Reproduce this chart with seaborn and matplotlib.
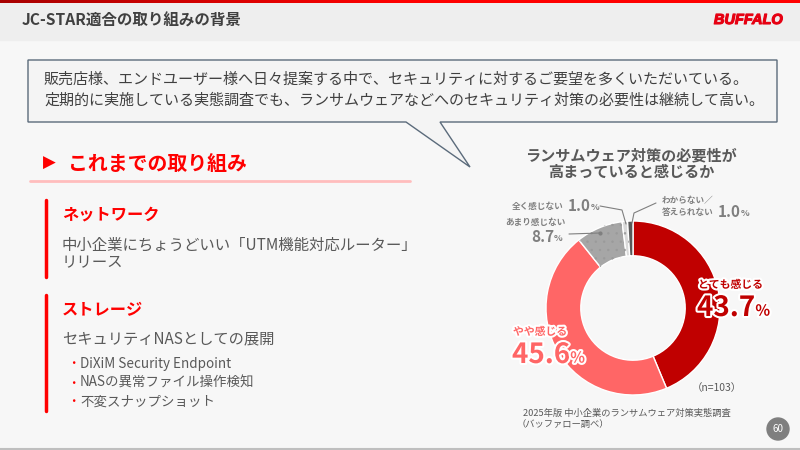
import numpy as np
import matplotlib
matplotlib.use("Agg")
import matplotlib.pyplot as plt
import seaborn as sns
from matplotlib import patheffects as pe
from matplotlib.patches import Rectangle, Polygon, Circle
from matplotlib.colors import LinearSegmentedColormap

# ---------------- data ----------------
categories = ["とても感じる", "やや感じる", "あまり感じない", "全く感じない", "わからない／答えられない"]
values = [43.7, 45.6, 8.7, 1.0, 1.0]
colors = ["#c00000", "#ff6666", "#a6a6a6", "#d9d9d9", "#595959"]
chart_title = ["ランサムウェア対策の必要性が", "高まっていると感じるか"]
sample_note = "（n=103）"
source_lines = ["2025年版 中小企業のランサムウェア対策実態調査", "（バッファロー調べ）"]
slide_title = "JC-STAR適合の取り組みの背景"
callout_lines = ["販売店様、エンドユーザー様へ日々提案する中で、セキュリティに対するご要望を多くいただいている。",
                 "定期的に実施している実態調査でも、ランサムウェアなどへのセキュリティ対策の必要性は継続して高い。"]
section_head = "これまでの取り組み"
net_head = "ネットワーク"
net_lines = ["中小企業にちょうどいい「UTM機能対応ルーター」", "リリース"]
sto_head = "ストレージ"
sto_line = "セキュリティNASとしての展開"
sto_bullets = ["DiXiM Security Endpoint", "NASの異常ファイル操作検知", "不変スナップショット"]
page_no = "60"

sns.set_theme(style="white")
plt.rcParams['font.family'] = ['Noto Sans CJK JP', 'DejaVu Sans']
plt.rcParams['hatch.linewidth'] = 0.5

RED = "#ff0000"
TXT = "#595959"

fig = plt.figure(figsize=(8, 4.5), dpi=100, facecolor="#f7f7f7")

# background / decoration axes in pixel coordinates
bg = fig.add_axes([0, 0, 1, 1])
bg.set_facecolor("#f7f7f7")
bg.add_patch(Rectangle((0, 0), 800, 40, color="#eeeeee", zorder=1))
cmap = LinearSegmentedColormap.from_list("r", ["#a80000", "#ff0000", "#ff0000"])
bg.imshow(np.linspace(0, 1, 256)[None, :], extent=[0, 800, 3.5, 0], cmap=cmap,
          aspect="auto", zorder=2)
bg.set_xlim(0, 800)
bg.set_ylim(450, 0)
bg.axis("off")

bg.text(22, 21, slide_title, fontsize=11.2, fontweight="bold", color="#404040", va="center")
bg.text(783, 20, "BUFFALO", fontsize=10.5, fontweight="heavy", style="italic", color="#e60012",
        ha="right", va="center", family=["Liberation Sans", "DejaVu Sans"],
        path_effects=[pe.withStroke(linewidth=0.8, foreground="#e60012")])

# callout box
bg.add_patch(Polygon([(28, 60), (777, 60), (777, 122), (440, 122), (470, 167), (406, 122), (28, 122)],
                     closed=True, facecolor="#f4f4f4", edgecolor="#5b6b7b", lw=1, zorder=3))
bg.text(44, 79, callout_lines[0], fontsize=10.85, color="#404040", va="center", zorder=4)
bg.text(44, 100, callout_lines[1], fontsize=10.85, color="#404040", va="center", zorder=4)

# left section
bg.text(43, 163, "▶", fontsize=12, color=RED, va="center", family=["DejaVu Sans"])
bg.text(68, 163, section_head, fontsize=14.3, fontweight="bold", color=RED, va="center")
bg.plot([30, 410], [181, 181], color="#ffbdbd", lw=2)

bg.plot([46, 46], [200, 277], color=RED, lw=2.5)
bg.text(62, 214, net_head, fontsize=11.7, fontweight="bold", color=RED, va="center")
bg.text(62, 245, net_lines[0], fontsize=11.1, color=TXT, va="center")
bg.text(62, 263, net_lines[1], fontsize=11.1, color=TXT, va="center")

bg.plot([46, 46], [295, 411], color=RED, lw=2.5)
bg.text(62, 310, sto_head, fontsize=11.7, fontweight="bold", color=RED, va="center")
bg.text(62, 339, sto_line, fontsize=11.0, color=TXT, va="center")
for yy, b in zip([364, 383, 402], sto_bullets):
    bg.text(73, yy, "・", fontsize=9, color=RED, ha="center", va="center")
    bg.text(80, yy, b, fontsize=9.7, color=TXT, va="center")

# page number & bottom line
bg.add_patch(Circle((778, 429), 11, color="#7f7f7f", zorder=3))
bg.text(778, 429, page_no, fontsize=7, color="white", ha="center", va="center", zorder=4)
bg.plot([0, 800], [449, 449], color="#bfbfbf", lw=1.5)

# chart title and notes
bg.text(631, 155, chart_title[0], fontsize=10.9, fontweight="bold", color=TXT, ha="center", va="center")
bg.text(631, 172, chart_title[1], fontsize=10.9, fontweight="bold", color=TXT, ha="center", va="center")
bg.text(742, 388, sample_note, fontsize=7.5, color=TXT, ha="right", va="center")
bg.text(523, 413, source_lines[0], fontsize=6.7, color=TXT, va="center")
bg.text(517, 425, source_lines[1], fontsize=6.7, color=TXT, va="center")

# ---------------- donut ----------------
cx, cy, R = 633, 308, 87
dax = fig.add_axes([(cx - R) / 800, (450 - cy - R) / 450, 2 * R / 800, 2 * R / 450])
wedges, _ = dax.pie(values, colors=colors, startangle=90, counterclock=False,
                    wedgeprops=dict(width=0.4, edgecolor="white", linewidth=1))
dax.set_xlim(-1, 1)
dax.set_ylim(-1, 1)
dax.axis("off")

# subtle dotted texture on the grey slices
for w in wedges[2:4]:
    tex = Polygon(w.get_path().vertices, closed=True, facecolor="none",
                  edgecolor="#9a9a9a", hatch="..", lw=0, transform=w.get_transform())
    dax.add_patch(tex)

# overlay for labels
ov = fig.add_axes([0, 0, 1, 1])
ov.set_xlim(0, 800)
ov.set_ylim(450, 0)
ov.axis("off")
ov.patch.set_alpha(0)

white = [pe.withStroke(linewidth=3, foreground="white")]
GL = "#7f7f7f"


def pct_text(x, y, v, big, small, color, effects=None, weight="bold"):
    t = ov.text(x, y, f"{v:.1f}", fontsize=big, fontweight=weight, color=color,
                va="center", ha="left", path_effects=effects)
    ov.annotate("%", xy=(1, 0.12), xycoords=t, xytext=(0, 0), textcoords="offset points",
                fontsize=small, fontweight=weight, color=color, va="bottom", ha="left",
                path_effects=effects)
    return t


# とても感じる
ov.text(698, 285, categories[0], fontsize=7.8, fontweight="bold", color=colors[0],
        va="center", path_effects=white)
pct_text(697, 308, values[0], 20, 11, colors[0], white)
# やや感じる
ov.text(513, 332, categories[1], fontsize=7.8, fontweight="bold", color=colors[1],
        va="center", path_effects=white)
pct_text(512, 355, values[1], 20, 11, colors[1], white)

# 全く感じない
t = ov.text(512, 206, categories[3], fontsize=6.2, fontweight="bold", color=GL, va="center")
t2 = ov.annotate(f"{values[3]:.1f}", xy=(1, 0.5), xycoords=t, xytext=(3, 0), textcoords="offset points",
                 fontsize=11, fontweight="bold", color=GL, va="center", ha="left")
ov.annotate("%", xy=(1, 0.12), xycoords=t2, xytext=(0, 0), textcoords="offset points",
            fontsize=6.5, fontweight="bold", color=GL, va="bottom", ha="left")
ov.plot([600, 622, 626], [206, 210, 224], color=GL, lw=0.8)

# あまり感じない
ov.text(505, 222, categories[2], fontsize=6.2, fontweight="bold", color=GL, va="center")
pct_text(531, 237, values[2], 11, 6.5, GL)
ov.plot([569, 600], [234, 233], color=GL, lw=0.8)
ov.plot([600], [233], marker="o", ms=2, color=GL)

# わからない／答えられない
ov.text(662, 200, "わからない／", fontsize=6.2, fontweight="bold", color=GL, va="center")
t = ov.text(662, 212, "答えられない", fontsize=6.2, fontweight="bold", color=GL, va="center")
t2 = ov.annotate(f"{values[4]:.1f}", xy=(1, 0.5), xycoords=t, xytext=(3, 0), textcoords="offset points",
                 fontsize=11, fontweight="bold", color=GL, va="center", ha="left")
ov.annotate("%", xy=(1, 0.12), xycoords=t2, xytext=(0, 0), textcoords="offset points",
            fontsize=6.5, fontweight="bold", color=GL, va="bottom", ha="left")
ov.plot([656, 634, 632], [203, 213, 223], color=GL, lw=0.8)

fig.savefig("out.png", dpi=100, facecolor=fig.get_facecolor())
